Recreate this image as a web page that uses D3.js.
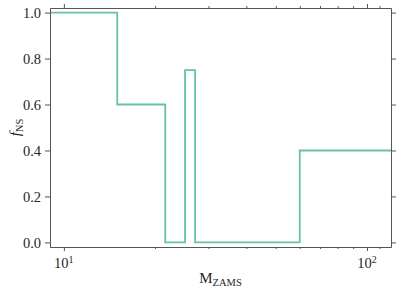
<!DOCTYPE html>
<html>
<head>
<meta charset="utf-8">
<script src="https://cdn.jsdelivr.net/npm/d3@7"></script>
<style>
  body { margin:0; background:#fff; }
  text { font-family:"Liberation Serif","DejaVu Serif",serif; fill:#262626; }
</style>
</head>
<body>
<svg id="chart" width="399" height="291"></svg>
<script>
// step edges (M_ZAMS) and f_NS value held on each bin; last bin runs past the frame
var binEdges = [9, 15, 21.6, 25.1, 27.1, 60, 130]
var fValues  = [1.0, 0.6, 0.0, 0.75, 0.0, 0.4]
var yTicks   = [0.0, 0.2, 0.4, 0.6, 0.8, 1.0]
var xMajor   = [10, 100]
var xMinor   = [20, 30, 40, 50, 60, 70, 80, 90, 110]

var W = 399, H = 291
var margin = {left:50, right:8, top:8, bottom:44}
var svg = d3.select("#chart")

var x = d3.scaleLog().domain([9, 120]).range([margin.left, W - margin.right])
var y = d3.scaleLinear().domain([-0.02, 1.02]).range([H - margin.bottom, margin.top])

//---step line: up from zero at left edge, flat across each bin---
var pts = [[binEdges[0], 0]]
fValues.forEach(function(v, i) {
    pts.push([binEdges[i], v])
    pts.push([binEdges[i+1], v])
})
pts.push([binEdges[binEdges.length-1], 0])

svg.append("clipPath").attr("id", "clip")
  .append("rect")
  .attr("x", margin.left).attr("y", margin.top)
  .attr("width", W - margin.left - margin.right)
  .attr("height", H - margin.top - margin.bottom)

svg.append("path")
  .datum(pts)
  .attr("clip-path", "url(#clip)")
  .attr("fill", "none")
  .attr("stroke", "#66c2a5")
  .attr("stroke-width", 1.8)
  .attr("stroke-linejoin", "miter")
  .attr("d", d3.line().x(function(d){return x(d[0])}).y(function(d){return y(d[1])}))

//---axes, ticks outward on all four sides---
var tickCol = "#555"
function styleAxis(g) {
    g.select(".domain").attr("stroke", tickCol)
    g.selectAll(".tick line").attr("stroke", tickCol)
    g.selectAll(".tick text").attr("font-size", 14.5).attr("fill", "#262626")
        .attr("font-family", "Liberation Serif, DejaVu Serif, serif")
}

svg.append("g")
  .attr("transform", "translate(" + margin.left + ",0)")
  .call(d3.axisLeft(y).tickValues(yTicks).tickFormat(d3.format(".1f")).tickSize(5).tickSizeOuter(0).tickPadding(4))
  .call(styleAxis)

svg.append("g")
  .attr("transform", "translate(" + (W - margin.right) + ",0)")
  .call(d3.axisRight(y).tickValues(yTicks).tickFormat("").tickSize(5).tickSizeOuter(0))
  .call(styleAxis)

svg.append("g")
  .attr("transform", "translate(0," + (H - margin.bottom) + ")")
  .call(d3.axisBottom(x).tickValues(xMajor).tickFormat("").tickSize(4).tickSizeOuter(0))
  .call(styleAxis)
svg.append("g")
  .attr("transform", "translate(0," + (H - margin.bottom) + ")")
  .call(d3.axisBottom(x).tickValues(xMinor).tickFormat("").tickSize(2).tickSizeOuter(0))
  .call(styleAxis)

svg.append("g")
  .attr("transform", "translate(0," + margin.top + ")")
  .call(d3.axisTop(x).tickValues(xMajor).tickFormat("").tickSize(4).tickSizeOuter(0))
  .call(styleAxis)
svg.append("g")
  .attr("transform", "translate(0," + margin.top + ")")
  .call(d3.axisTop(x).tickValues(xMinor).tickFormat("").tickSize(2).tickSizeOuter(0))
  .call(styleAxis)

//---10^n labels under the bottom axis---
var lbl = svg.append("g").selectAll("text").data(xMajor).enter().append("text")
  .attr("x", function(d){return x(d)})
  .attr("y", H - margin.bottom + 21)
  .attr("text-anchor", "middle")
  .attr("font-size", 14.5)
lbl.append("tspan").text("10")
lbl.append("tspan").attr("font-size", 10).attr("dy", -5).text(function(d){return Math.round(Math.log10(d))})

//---axis titles---
var xt = svg.append("text")
  .attr("x", (margin.left + W - margin.right) / 2)
  .attr("y", H - 8)
  .attr("text-anchor", "middle")
  .attr("font-size", 15)
xt.append("tspan").text("M")
xt.append("tspan").attr("font-size", 10.5).attr("dy", 3).text("ZAMS")

var yt = svg.append("text")
  .attr("transform", "translate(20," + ((margin.top + H - margin.bottom) / 2) + ")rotate(-90)")
  .attr("text-anchor", "middle")
  .attr("font-size", 15)
yt.append("tspan").attr("font-style", "italic").text("f")
yt.append("tspan").attr("font-size", 10.5).attr("dy", 3).text("NS")
</script>
</body>
</html>
